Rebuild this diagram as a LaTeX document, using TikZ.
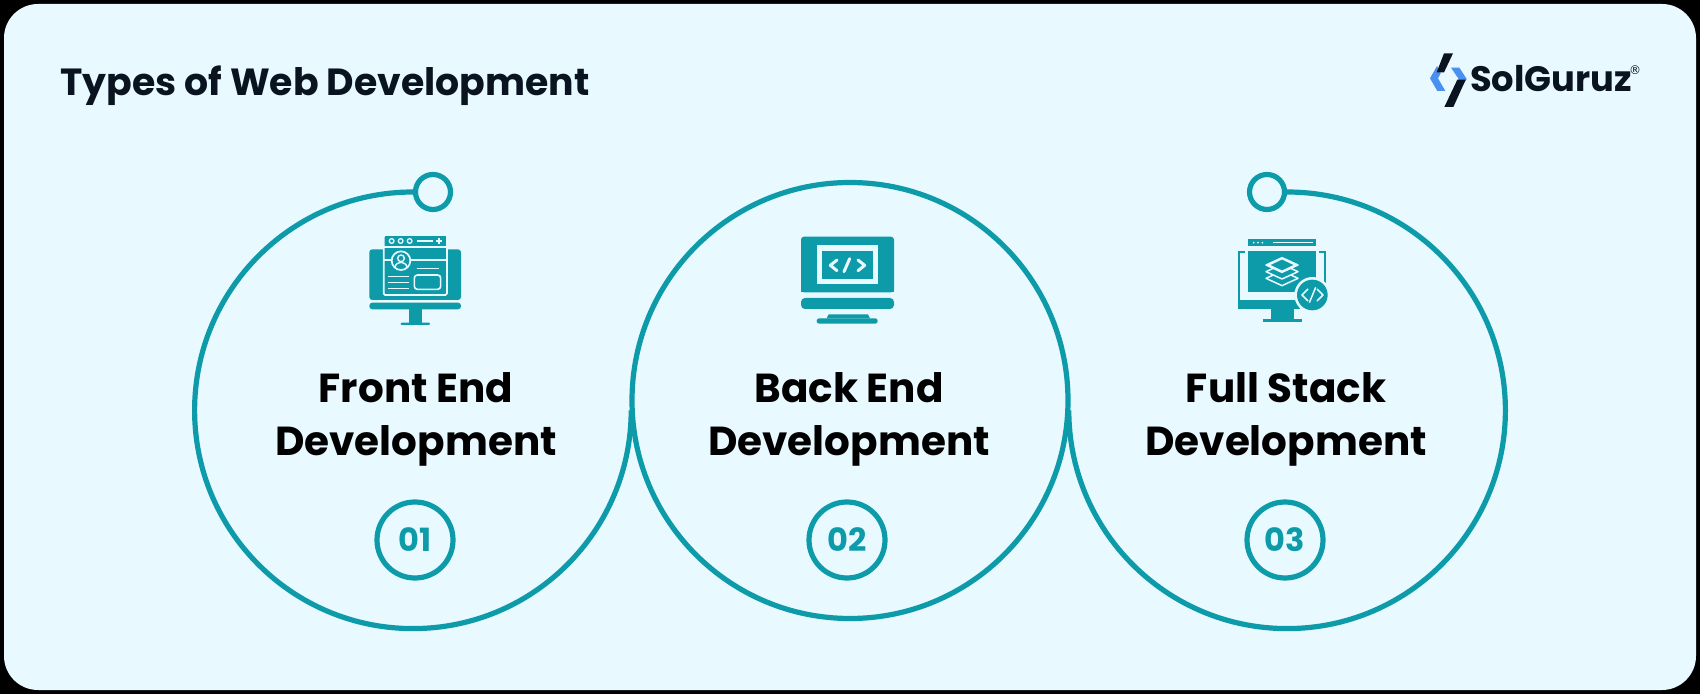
\documentclass[tikz,border=0pt]{standalone}
\usepackage{fontspec}
\setmainfont{Poppins}
\newfontfamily\regfont{DejaVu Sans}
\definecolor{bgc}{HTML}{E8F9FF}
\definecolor{teal1}{HTML}{0D9BAA}
\definecolor{ink}{HTML}{0A1420}
\definecolor{logoblue}{HTML}{4A90F0}
\tikzset{
  ring/.style={draw=teal1,line width=5.2pt},
  dotnode/.style={circle,draw=teal1,line width=5.2pt,fill=bgc,minimum size=35pt,inner sep=0pt},
  numnode/.style={circle,draw=teal1,line width=5.2pt,minimum size=76pt,inner sep=0pt,text=teal1,font=\fontsize{32}{33}\selectfont\bfseries},
  lab/.style={align=center,text=black,font=\fontsize{40.5}{53}\selectfont\bfseries},
  icon/.style={x=0.33333pt,y=-0.33333pt},
}
\begin{document}
\begin{tikzpicture}[x=1pt,y=1pt]
\useasboundingbox (0,0) rectangle (1700,694);
\fill[black] (0,0) rectangle (1700,694);
\fill[bgc,rounded corners=34pt] (4,4) rectangle (1696,690);

\node[anchor=base west,text=ink,font=\fontsize{37.8}{40}\selectfont\bfseries,inner sep=0pt] (title) at (60,598) {Types of Web Development};

% circles
\coordinate (c2) at (850,293.5);
\node[dotnode] (d1) at (433,502) {};
\node[dotnode] (d3) at (1267,502) {};
\draw[ring] (d1.west) arc[start angle=90,end angle=360,radius=218.3pt];
\draw[ring] (d3.east) arc[start angle=90,end angle=-180,radius=218.3pt];
\node[circle,ring,minimum size=436pt,inner sep=0pt] (m) at (c2) {};

\node[lab] (t1) at (416,274.5) {Front End\\Development};
\node[lab] (t2) at (849,274.5) {Back End\\Development};
\node[lab] (t3) at (1286,274.5) {Full Stack\\Development};
\node[numnode] (n1) at (415,154) {01};
\node[numnode] (n2) at (847,154) {02};
\node[numnode] (n3) at (1285,154) {03};

% icon 1
\begin{scope}[shift={(340,534)},icon]
\fill[teal1,rounded corners=3pt] (88,420) -- (88,268) -- (363,268) -- (363,420) -- cycle;
\fill[teal1,rounded corners=3pt] (88,428) -- (363,428) -- (363,448) -- (88,448) -- cycle;
\fill[teal1] (207,448) rectangle (245,488);
\fill[teal1,rounded corners=1pt] (182,488) rectangle (270,495);
\draw[bgc,line width=1.7pt,fill=teal1,rounded corners=1.5pt] (131,226) rectangle (321,405);
\fill[teal1] (135,228) rectangle (317,257);
\draw[bgc,line width=1.7pt] (131,260) -- (321,260);
\foreach \x in {155,182,209} \draw[bgc,line width=1.3pt] (\x,243) circle[radius=7];
\draw[bgc,line width=1.7pt] (232,243) -- (280,243);
\draw[bgc,line width=1.7pt] (288,243) -- (306,243) (297,234) -- (297,252);
\draw[bgc,line width=1.7pt] (131,300) -- (155,300) (211,300) -- (321,300);
\draw[bgc,line width=1.7pt] (183,302) circle[radius=28];
\draw[bgc,line width=1.4pt] (183,295) circle[radius=10];
\draw[bgc,line width=1.4pt] (165,322) .. controls (168,302) and (198,302) .. (201,322);
\draw[bgc,line width=1.6pt] (230,325) -- (298,325);
\draw[bgc,line width=1.6pt,rounded corners=3pt] (223,345) rectangle (302,388);
\draw[bgc,line width=1.6pt] (145,350) -- (207,350) (145,368) -- (207,368) (145,385) -- (207,385);
\end{scope}

% icon 2
\begin{scope}[shift={(770,474)},icon]
\fill[teal1,rounded corners=3pt] (93,217) -- (93,50) -- (372,50) -- (372,217) -- cycle;
\fill[teal1] (93,217) rectangle (372,210);
\fill[teal1,rounded corners=4pt] (93,234) -- (93,267) -- (372,267) -- (372,234) -- cycle;
\fill[teal1] (170,295) -- (176,283) -- (294,283) -- (300,295) -- cycle;
\fill[teal1,rounded corners=2.5pt] (140,295) rectangle (323,311);
\fill[bgc] (141,75) rectangle (325,193);
\fill[teal1] (157,92) rectangle (308,178);
\draw[bgc,line width=3pt,line cap=round,line join=round] (201,120) -- (181,136) -- (201,152);
\draw[bgc,line width=3pt,line cap=round] (239,116) -- (222,155);
\draw[bgc,line width=3pt,line cap=round,line join=round] (264,120) -- (284,136) -- (264,152);
\end{scope}

% icon 3
\begin{scope}[shift={(1220,534)},icon]
\fill[teal1] (84,238) rectangle (288,258);
\foreach \x in {101,114,127} \fill[bgc] (\x,248) circle[radius=3];
\draw[bgc,line width=1.4pt] (160,248) -- (278,248);
\fill[teal1] (84,272) rectangle (288,395);
\draw[teal1,line width=1.8pt] (75,276) -- (58,276) -- (58,422);
\draw[teal1,line width=1.8pt] (298,276) -- (316,276) -- (316,385);
\fill[teal1] (55,420) rectangle (240,448);
\fill[teal1] (153,448) rectangle (222,478);
\fill[teal1] (128,478) rectangle (245,485);
\foreach \y in {355,335} \draw[bgc,line width=1.5pt,line join=round,fill=teal1] (138,\y) -- (186,\y-22) -- (234,\y) -- (186,\y+22) -- cycle;
\draw[bgc,line width=1.5pt,line join=round,fill=bgc] (138,315) -- (186,293) -- (234,315) -- (186,337) -- cycle;
\fill[teal1] (152,315) -- (186,299) -- (220,315) -- (186,331) -- cycle;
\fill[bgc] (277,405) circle[radius=54];
\fill[teal1] (277,405) circle[radius=46];
\draw[bgc,line width=1.5pt,line join=round] (264,387) -- (246,405) -- (264,423);
\draw[bgc,line width=1.5pt] (287,382) -- (268,428);
\draw[bgc,line width=1.5pt,line join=round] (291,387) -- (309,405) -- (291,423);
\end{scope}

% logo
\begin{scope}[shift={(1420,649)},icon]
\fill[logoblue] (30,100) -- (51,63) -- (62,85) -- (54,100) -- (76,138) -- (52,138) -- cycle;
\fill[logoblue] (93,68) -- (118,68) -- (140,102) -- (118,138) -- (110,118) -- (116,102) -- cycle;
\fill[ink] (72,25) -- (99,25) -- (72,82) -- (50,82) -- cycle;
\fill[ink] (112,104) -- (137,104) -- (100,186) -- (73,186) -- cycle;
\end{scope}
\node[anchor=base west,inner sep=0pt,text=ink,font=\fontsize{35.3}{36}\selectfont\bfseries] (logo) at (1470,602) {SolGuruz};
\node[inner sep=0pt,text=ink,font=\regfont\fontsize{12}{12}\selectfont] (reg) at (1635,624) {®};
\end{tikzpicture}
\end{document}
